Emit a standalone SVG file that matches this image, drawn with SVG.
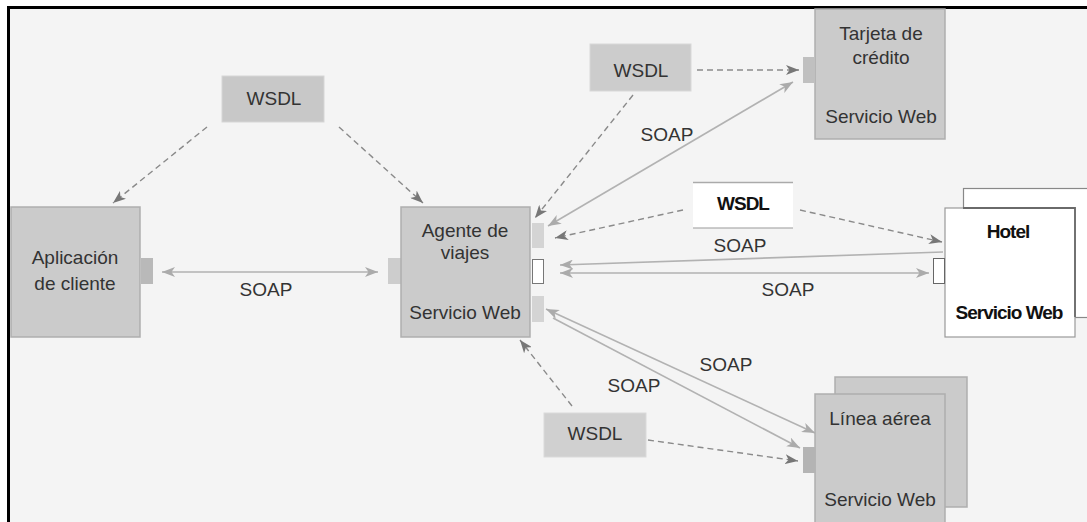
<svg xmlns="http://www.w3.org/2000/svg" width="1087" height="522" viewBox="0 0 1087 522">
  <style>
    .txt { font-family: "Liberation Sans", Arial, sans-serif; font-size: 19px; fill: #333; text-anchor: middle; }
    .bold { font-weight: bold; fill: #111; letter-spacing: -1px; }
    .node { fill: #cbcbcb; stroke: #aeaeae; stroke-width: 1.5; }
    .port { stroke: none; }
    .dash { fill: none; stroke: #8a8a8a; stroke-width: 1.4; stroke-dasharray: 6 4; marker-end: url(#arrowDark); }
    .soap { fill: none; stroke: #b2b2b2; stroke-width: 1.6; }
  </style>
  <defs>
    <marker id="arrowDark" markerUnits="userSpaceOnUse" markerWidth="14" markerHeight="10" refX="13" refY="5" orient="auto-start-reverse">
      <path d="M0,0 L13,5 L0,10 L3.5,5 z" fill="#777"/>
    </marker>
    <marker id="arrowLight" markerUnits="userSpaceOnUse" markerWidth="14" markerHeight="10" refX="13" refY="5" orient="auto-start-reverse">
      <path d="M0,0 L13,5 L0,10 L3.5,5 z" fill="#ababab"/>
    </marker>
  </defs>

  <!-- canvas and frame -->
  <rect x="0" y="0" width="1087" height="522" fill="#ffffff"/>
  <rect x="10" y="9" width="1077" height="513" fill="#f4f4f4"/>
  <line x1="7" y1="7.5" x2="1087" y2="7.5" stroke="#000" stroke-width="3"/>
  <line x1="8.5" y1="6" x2="8.5" y2="522" stroke="#000" stroke-width="3"/>

  <!-- connectors -->
  <g id="connectors">
    <line class="dash" x1="207" y1="127" x2="113" y2="203"/>
    <line class="dash" x1="339" y1="127" x2="423" y2="203"/>
    <line class="soap" x1="162" y1="272" x2="378" y2="272" stroke-width="2" marker-start="url(#arrowLight)" marker-end="url(#arrowLight)"/>
    <line class="dash" x1="633" y1="95" x2="535" y2="218"/>
    <line class="dash" x1="697" y1="70" x2="799" y2="70"/>
    <line class="soap" x1="548" y1="226" x2="793" y2="82" marker-start="url(#arrowLight)" marker-end="url(#arrowLight)"/>
    <line class="dash" x1="683" y1="210" x2="555" y2="238"/>
    <line class="dash" x1="800" y1="210" x2="942" y2="242"/>
    <line class="soap" x1="943" y1="252" x2="560" y2="265" marker-end="url(#arrowLight)"/>
    <line class="soap" x1="560" y1="273" x2="929" y2="273" marker-start="url(#arrowLight)" marker-end="url(#arrowLight)"/>
    <line class="soap" x1="546" y1="309" x2="815" y2="433" marker-start="url(#arrowLight)" marker-end="url(#arrowLight)"/>
    <line class="soap" x1="553" y1="318" x2="800" y2="448" marker-end="url(#arrowLight)"/>
    <line class="dash" x1="572" y1="406" x2="520" y2="340"/>
    <line class="dash" x1="648" y1="440" x2="798" y2="461"/>
    <text class="txt" x="266" y="296">SOAP</text>
    <text class="txt" x="667" y="141">SOAP</text>
    <text class="txt" x="740" y="252">SOAP</text>
    <text class="txt" x="788" y="296">SOAP</text>
    <text class="txt" x="726" y="371">SOAP</text>
    <text class="txt" x="634" y="392">SOAP</text>
  </g>

  <!-- WSDL shared by client and agent -->
  <g id="wsdl-agente">
    <rect x="222" y="76" width="102" height="46" fill="#c8c8c8" stroke="#d6d6d6" stroke-width="1"/>
    <text class="txt" x="274" y="105">WSDL</text>
  </g>

  <!-- client application -->
  <g id="aplicacion-cliente">
    <rect class="node" x="11" y="207" width="129" height="130" fill="#cccccc"/>
    <rect class="port" x="141" y="258" width="12" height="26" fill="#b9b9b9"/>
    <text class="txt" x="75" y="264">Aplicación</text>
    <text class="txt" x="75" y="290">de cliente</text>
  </g>

  <!-- travel agent web service -->
  <g id="agente-viajes">
    <rect class="port" x="388" y="258" width="13" height="26" fill="#cdcdcd"/>
    <rect class="node" x="401" y="207" width="129" height="130" fill="#c6c6c6"/>
    <rect class="port" x="532" y="223" width="12" height="25" fill="#d4d4d4"/>
    <rect x="532.5" y="259.5" width="11" height="24" fill="#ffffff" stroke="#777" stroke-width="1"/>
    <rect class="port" x="532" y="296" width="12" height="26" fill="#d4d4d4"/>
    <text class="txt" x="465" y="237">Agente de</text>
    <text class="txt" x="465" y="259">viajes</text>
    <text class="txt" x="465" y="319">Servicio Web</text>
  </g>

  <!-- WSDL of the credit card service -->
  <g id="wsdl-tarjeta">
    <rect x="590" y="44" width="101" height="47" fill="#cccccc" stroke="#d8d8d8" stroke-width="1"/>
    <text class="txt" x="641" y="77">WSDL</text>
  </g>

  <!-- credit card web service -->
  <g id="tarjeta-credito">
    <rect class="node" x="815" y="9" width="130" height="130" fill="#cfcfcf"/>
    <rect class="port" x="803" y="57" width="12" height="26" fill="#c0c0c0"/>
    <text class="txt" x="881" y="40">Tarjeta de</text>
    <text class="txt" x="881" y="64">crédito</text>
    <text class="txt" x="881" y="123">Servicio Web</text>
  </g>

  <!-- WSDL of the hotel service -->
  <g id="wsdl-hotel">
    <rect x="693" y="182" width="100" height="46" fill="#ffffff"/>
    <line x1="693" y1="182.5" x2="793" y2="182.5" stroke="#aaa" stroke-width="1.5"/>
    <line x1="693" y1="228" x2="793" y2="228" stroke="#999" stroke-width="1"/>
    <text class="txt bold" x="743" y="210">WSDL</text>
  </g>

  <!-- hotel web service -->
  <g id="hotel">
    <rect x="963.5" y="188.5" width="130" height="129" fill="#ffffff" stroke="#888" stroke-width="1.2"/>
    <rect x="945" y="208" width="130" height="129" fill="#ffffff" stroke="#999" stroke-width="1.2"/>
    <polyline points="963,208 1075,208 1075,317" fill="none" stroke="#6a6a6a" stroke-width="1.8"/>
    <rect x="933.5" y="258.5" width="11" height="25" fill="#ffffff" stroke="#666" stroke-width="1"/>
    <text class="txt bold" x="1008" y="238">Hotel</text>
    <text class="txt bold" x="1009" y="319">Servicio Web</text>
  </g>

  <!-- WSDL of the airline service -->
  <g id="wsdl-linea">
    <rect x="544" y="413" width="102" height="44" fill="#d0d0d0" stroke="#dadada" stroke-width="1"/>
    <text class="txt" x="595" y="440">WSDL</text>
  </g>

  <!-- airline web service -->
  <g id="linea-aerea">
    <rect class="node" x="835" y="377" width="132" height="130" fill="#d0d0d0"/>
    <rect class="node" x="815" y="394" width="130" height="140" fill="#d0d0d0"/>
    <rect class="port" x="803" y="447" width="12" height="26" fill="#b4b4b4"/>
    <text class="txt" x="880" y="425">Línea aérea</text>
    <text class="txt" x="880" y="506">Servicio Web</text>
  </g>
</svg>
